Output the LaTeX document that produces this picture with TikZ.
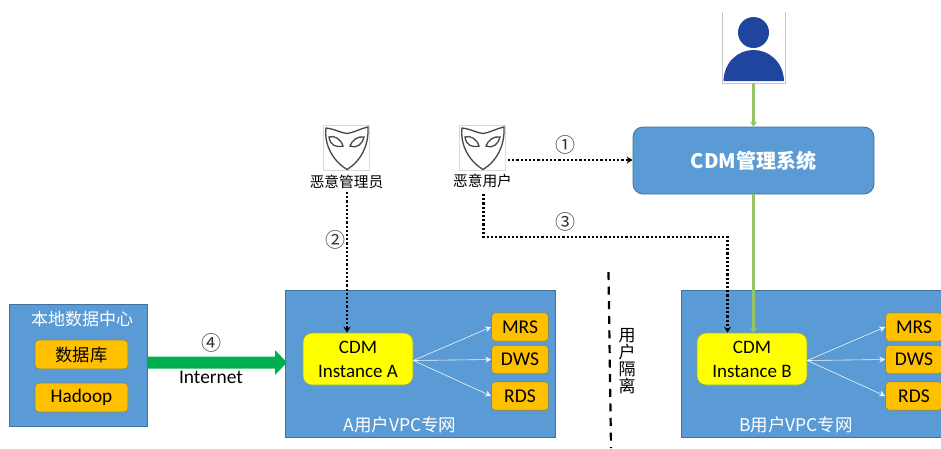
\documentclass[tikz,border=0pt]{standalone}
\usepackage{fontspec}
\setmainfont{Carlito}
\newfontfamily\cjk{Noto Sans CJK SC}
\usetikzlibrary{arrows.meta}
\definecolor{bluefill}{HTML}{5B9BD5}
\definecolor{blueedge}{HTML}{41719C}
\definecolor{orangefill}{HTML}{FFC000}
\definecolor{yellowfill}{HTML}{FFFF00}
\definecolor{greenline}{HTML}{97C267}
\definecolor{netgreen}{HTML}{00B050}
\definecolor{userblue}{HTML}{1F459F}
\tikzset{
  x=1pt,y=-1pt,
  zone/.style={draw=blueedge,fill=bluefill,line width=0.8pt},
  zonelabel/.style={text=white,font=\cjk\fontsize{17}{20}\selectfont,inner sep=0pt},
  svc/.style={draw=blueedge!70!orangefill,fill=orangefill,rounded corners=4pt,line width=0.6pt,text=black,font=\cjk\fontsize{17.3}{20}\selectfont,inner sep=0pt},
  inst/.style={draw=blueedge!60!yellowfill,fill=yellowfill,rounded corners=9pt,line width=0.6pt,text=black,align=center,font=\fontsize{19}{24}\selectfont,inner sep=0pt},
  whitearrow/.style={draw=white!90!bluefill,line width=0.6pt,-{Stealth[length=6pt,width=6pt]}},
  dotline/.style={draw=black,line width=2.2pt,dash pattern=on 2.2pt off 2pt},
  dothead/.style={-{Stealth[length=6pt,width=7pt]}},
  greenarrow/.style={draw=greenline,line width=2.8pt,-{Stealth[length=5pt,width=7pt]}},
  circnum/.style={font=\cjk\fontsize{20}{20}\selectfont,inner sep=0pt,text=black!80},
  caption/.style={font=\cjk\fontsize{14.7}{17}\selectfont,inner sep=0pt,text=black},
  iconframe/.style={draw=black!15,line width=0.6pt},
  mask/.style={draw=black!72,line width=1.3pt,fill=white}
}
\newcommand{\maskicon}[2]{%
  \begin{scope}[shift={(#1,#2)}]
    \draw[iconframe] (0,0) rectangle (46,45);
    \draw[mask] (3,3) .. controls (12,4) and (18,8) .. (24,8.5) .. controls (30,8) and (36,4) .. (45,2)
      .. controls (46,20) and (38,36) .. (24,44.5) .. controls (10,36) and (1,20) .. (3,3) -- cycle;
    \draw[mask] (6,12) .. controls (11,10) and (18,14) .. (20,21) .. controls (13,23) and (7,20) .. (6,12) -- cycle;
    \draw[mask] (27,21) .. controls (29,15) and (35,11) .. (41,12) .. controls (40,19) and (33,24) .. (27,21) -- cycle;
  \end{scope}}
\begin{document}
\begin{tikzpicture}
\useasboundingbox (0,0) rectangle (941,448);
% user icon
\draw[draw=black!22,line width=0.7pt] (722.5,12) -- (722.5,83) -- (785,83) -- (785,12);
\node[circle,fill=userblue,minimum size=31pt,inner sep=0pt] (head) at (753.5,32.5) {};
\fill[userblue] (723.5,81) .. controls (724,62) and (738,50) .. (753.5,50) .. controls (769,50) and (783.5,62) .. (784,81) -- cycle;
\coordinate (userbase) at (753.5,83);
% mgmt system
\node[draw=blueedge,fill=bluefill,rounded corners=10pt,line width=0.8pt,minimum width=241pt,minimum height=67pt,text=white,font=\cjk\bfseries\fontsize{20}{24}\selectfont,inner sep=0pt] (mgmt) at (753.5,160.5) {CDM管理系统};
% masks
\maskicon{323}{125}
\maskicon{459}{125}
\node[caption] (admin) at (346.5,182) {恶意管理员};
\node[caption] (baduser) at (482.5,181) {恶意用户};
\coordinate (m2r) at (508,160);
% zones
\node[zone,minimum width=138pt,minimum height=122pt,inner sep=0pt] (local) at (78,365) {};
\node[zone,minimum width=270pt,minimum height=147pt,inner sep=0pt] (vpca) at (420,363.5) {};
\fill[bluefill] (681,290) rectangle (941,437);
\draw[blueedge,line width=0.8pt] (941,290) -- (681,290) -- (681,437) -- (941,437);
\coordinate (vpcb) at (681,363.5);
\node[zonelabel] (localt) at (82,319) {本地数据中心};
\node[zonelabel,font=\cjk\fontsize{17.5}{20}\selectfont] (vpcat) at (400,425) {A用户VPC专网};
\node[zonelabel,font=\cjk\fontsize{17.5}{20}\selectfont] (vpcbt) at (796,425) {B用户VPC专网};
% local services
\node[svc,minimum width=93pt,minimum height=29pt] (db) at (81.5,354.5) {数据库};
\node[svc,minimum width=93pt,minimum height=29pt,font=\fontsize{19.2}{22}\selectfont] (hadoop) at (81.5,397.5) {Hadoop};
% instances
\node[inst,minimum width=110pt,minimum height=52pt] (insta) at (358,359) {CDM\\Instance A};
\node[inst,minimum width=110pt,minimum height=52pt] (instb) at (752,359) {CDM\\Instance B};
% services A
\tikzset{svcw/.style={svc,minimum width=57pt,minimum height=28.5pt,font=\fontsize{19.5}{22}\selectfont}}
\node[svcw] (mrsa) at (520,327) {MRS};
\node[svcw] (dwsa) at (520,359.5) {DWS};
\node[svcw] (rdsa) at (520,396) {RDS};
\node[svcw] (mrsb) at (914,327) {MRS};
\node[svcw] (dwsb) at (914,359.5) {DWS};
\node[svcw] (rdsb) at (914,396) {RDS};
\foreach \s in {mrsa,dwsa,rdsa}{\draw[whitearrow] (insta.east) ++(0,1.5) -- (\s.west);}
\foreach \s in {mrsb,dwsb,rdsb}{\draw[whitearrow] (instb.east) ++(0,1.5) -- (\s.west);}
% connectors
\draw[greenarrow] (userbase) -- (mgmt.north -| userbase);
\draw[greenarrow] (mgmt.south -| userbase) -- (userbase |- instb.north);
\draw[dotline,dothead] (m2r) -- (mgmt.west |- m2r);
\draw[dotline,dothead] (admin.south) ++(0.5,3) coordinate (a0) -- (a0 |- insta.north);
\coordinate (b0) at (483.5,194);
\coordinate (b1) at (727.5,237);
\draw[dotline,dothead] (b0) |- (b1) -- (b1 |- instb.north);
\node[circnum] (n1) at (565,145) {①};
\node[circnum] (n3) at (565,222) {③};
\node[circnum] (n2) at (335,240) {②};
\node[circnum] (n4) at (211,343) {④};
% internet arrow
\fill[netgreen] (147.5,356.5) -- (275,356.5) -- (275,350) -- (287,362.5) -- (275,375) -- (275,368.5) -- (147.5,368.5) -- cycle;
\node[font=\fontsize{19.4}{22}\selectfont,inner sep=0pt] (inet) at (211,377) {Internet};
% isolation
\coordinate (d0) at (608.5,272);
\coordinate (d1) at (611,448);
\draw[black,line width=2.2pt,dash pattern=on 8pt off 6.6pt] (d0) -- (d1);
\node[font=\cjk\fontsize{17}{17}\selectfont,align=center,inner sep=0pt] (iso) at (627,361.5) {用\\户\\隔\\离};
\end{tikzpicture}
\end{document}
